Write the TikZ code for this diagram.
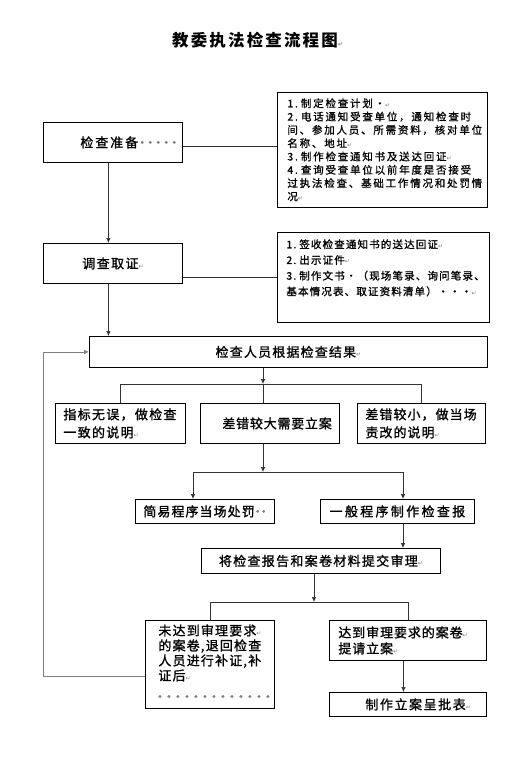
\documentclass[tikz,border=0pt]{standalone}
\usepackage{fontspec}
\setmainfont{Noto Sans CJK SC}
\newfontfamily\djv{DejaVu Sans}
\usetikzlibrary{arrows.meta}
\definecolor{lnc}{HTML}{333333}
\definecolor{fbc}{HTML}{7F7F7F}
\newcommand\pmk{{\djv\fontsize{6}{6}\selectfont\textcolor{gray}{↵}}}
\newcommand\gdot[1][8pt]{\makebox[#1]{\textcolor{gray}{·}}}
% #1 width, #2 height, #3 vpos, #4 top pad, #5 leftskip, #6 content
\newcommand\bt[6]{\parbox[c][#2][#3]{#1}{\vspace*{#4}\leftskip=#5\rightskip=0pt plus 1fill\relax\noindent #6\par}}
\newcommand\mf[1]{\fontsize{13}{18}\selectfont\addfontfeatures{LetterSpace=#1,FakeBold=1.2}}
\newcommand\smf[2]{\fontsize{10.5}{#2}\selectfont\addfontfeatures{LetterSpace=#1,FakeBold=1}}
\tikzset{
  box/.style={draw=black, line width=0.8pt, inner sep=0pt, anchor=north west},
  ln/.style={draw=lnc, line width=0.7pt},
  fbl/.style={draw=fbc, line width=0.8pt},
  arr/.style={-{Latex[length=5pt,width=4.5pt]}}
}
\begin{document}
\begin{tikzpicture}[x=1pt,y=-1pt]
\fill[white] (0,0) rectangle (524,764);
\useasboundingbox (0,0) rectangle (524,764);

\node[anchor=west, inner sep=0pt] (title) at (172,40) {\fontsize{16.5}{20}\selectfont\bfseries\addfontfeatures{LetterSpace=13}教委执法检查流程图\pmk};

\node[box] (prep) at (43,122) {\bt{139pt}{40pt}{c}{0pt}{37pt}{\mf{15}检查准备\gdot\gdot\gdot\gdot\gdot}};

\node[box] (r1) at (277,92) {\bt{210pt}{115pt}{t}{6pt}{10pt}{\smf{17}{13.3}1.\hspace{3pt}制定检查计划·\pmk\\ 2.\hspace{3pt}电话通知受查单位，通知检查时\\ 间、参加人员、所需资料，核对单位\\ 名称、地址\pmk\\ 3.\hspace{3pt}制作检查通知书及送达回证\pmk\\ 4.\hspace{3pt}查询受查单位以前年度是否接受\\ 过执法检查、基础工作情况和处罚情\\ 况\pmk}};

\node[box] (inv) at (43,243) {\bt{139pt}{40pt}{c}{0pt}{0pt plus 1fill}{\mf{11}调查取证\pmk}};

\node[box] (r2) at (277,232) {\bt{212pt}{90pt}{t}{7pt}{9pt}{\smf{11}{15.7}1.\hspace{3pt}签收检查通知书的送达回证\pmk\\ 2.\hspace{3pt}出示证件\pmk\\ 3.\hspace{3pt}制作文书·（现场笔录、询问笔录、\\ 基本情况表、取证资料清单）···\pmk}};

\node[box] (res) at (89,336) {\bt{398pt}{31pt}{c}{0pt}{0pt plus 1fill}{\mf{9}检查人员根据检查结果\pmk}};

\node[box] (A) at (55,403) {\bt{130pt}{40pt}{c}{0pt}{8pt}{\mf{10}指标无误，做检查\\ 一致的说明\pmk}};
\node[box] (B) at (200,403) {\bt{139pt}{40pt}{c}{0pt}{22pt}{\mf{6}差错较大需要立案}};
\node[box] (C) at (357,403) {\bt{128pt}{40pt}{c}{0pt}{8pt}{\mf{8}差错较小，做当场\\ 责改的说明\pmk}};

\node[box] (S) at (135,499) {\bt{139pt}{24pt}{c}{0pt}{8pt}{\mf{8}简易程序当场处罚\gdot[6pt]\gdot[6pt]}};
\node[box] (G) at (320,499) {\bt{154pt}{24pt}{c}{0pt}{0pt plus 1fill}{\mf{18}一般程序制作检查报}};

\node[box] (T) at (201,548) {\bt{239pt}{25pt}{c}{0pt}{0pt plus 1fill}{\mf{10}将检查报告和案卷材料提交审理\pmk}};

\node[box] (U) at (145,620) {\bt{129pt}{88pt}{t}{4pt}{13pt}{\fontsize{13}{15}\selectfont\addfontfeatures{LetterSpace=9,FakeBold=1.2}未达到审理要求\pmk\\ 的案卷,退回检查\\ 人员进行补证,补\\ 证后\pmk\\[6pt] \hspace*{-3pt}\gdot[9pt]\gdot[9pt]\gdot[9pt]\gdot[9pt]\gdot[9pt]\gdot[9pt]\gdot[9pt]\gdot[9pt]\gdot[9pt]\gdot[9pt]\gdot[9pt]\gdot[9pt]\gdot[9pt]}};

\node[box] (P) at (329,620) {\bt{157pt}{40pt}{c}{0pt}{9pt}{\fontsize{13}{16}\selectfont\addfontfeatures{LetterSpace=7,FakeBold=1.2}达到审理要求的案卷\pmk\\ 提请立案\pmk}};
\node[box] (F) at (329,692) {\bt{157pt}{24pt}{c}{0pt}{36pt}{\mf{12}制作立案呈批表\pmk}};

\coordinate (br1) at (263,384);
\coordinate (br2) at (263,472);
\coordinate (br2l) at (193,472);
\coordinate (br2r) at (403,472);
\coordinate (br3) at (314,602);
\coordinate (fb) at (43,352);

\draw[ln] ([yshift=-4pt]prep.east) -- ([yshift=-4pt]prep.east -| r1.west);
\draw[ln,arr] ([xshift=-4.5pt]prep.south) -- ([xshift=-4.5pt]inv.north);
\draw[ln] (r2.west -| inv.east) -- (r2.west);
\draw[ln,arr] ([xshift=-4.5pt]inv.south) -- ([xshift=-4.5pt]inv.south |- res.north);
\draw[ln,arr] (res.south -| br1) -- (br1);
\draw[ln] (A.north |- br1) -- (C.north |- br1);
\draw[ln] (br1 -| A.north) -- (A.north);
\draw[ln] (br1) -- (br1 |- B.north);
\draw[ln] (br1 -| C.north) -- (C.north);
\draw[ln,arr] (B.south -| br2) -- (br2);
\draw[ln] (br2l) -- (br2r);
\draw[ln,arr] (br2l) -- (br2l |- S.north);
\draw[ln,arr] (br2r) -- (br2r |- G.north);
\draw[ln,arr] (G.south -| br2r) -- (br2r |- T.north);
\draw[ln,arr] (T.south -| br3) -- (br3);
\draw[ln] (U.north |- br3) -- (P.north |- br3);
\draw[ln] (br3 -| U.north) -- (U.north);
\draw[ln] (br3 -| P.north) -- (P.north);
\draw[ln,arr] ([xshift=-4.5pt]P.south) -- ([xshift=-4.5pt]P.south |- F.north);
\draw[fbl,arr] ([yshift=-12pt]U.west) -| (fb |- res.west) -- (res.west);
\end{tikzpicture}
\end{document}
